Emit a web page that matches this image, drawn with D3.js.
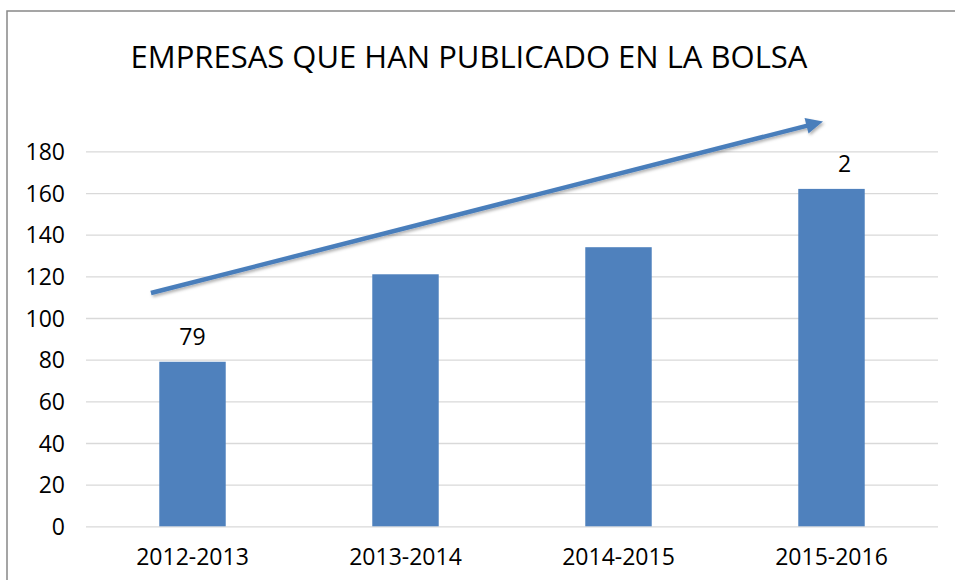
<!DOCTYPE html>
<html>
<head>
<meta charset="utf-8">
<script src="https://cdn.jsdelivr.net/npm/d3@7"></script>
<style>
  html, body { margin: 0; padding: 0; background: #fff; }
  svg { display: block; font-family: "Open Sans", "Noto Sans", sans-serif; }
</style>
</head>
<body>
<svg id="chart" width="955" height="580"></svg>
<script>
// data
const categories = ['2012-2013', '2013-2014', '2014-2015', '2015-2016'];
const values = [79, 121, 134, 162];
const labels = ['79', null, null, '2'];          // data labels as shown
const yTicks = [0, 20, 40, 60, 80, 100, 120, 140, 160, 180];
// trend arrow, in (category-step units, value units)
const trendFrom = [0.305, 112];
const trendTo = [3.46, 194.3];

const W = 955, H = 580;
const plot = { left: 86, right: 938, top: 151.4, bottom: 526.3 };
const BAR = '#4f81bd';
const FS = 23;

const svg = d3.select('#chart');

// chart frame
svg.append('rect')
  .attr('x', 7).attr('y', 11)
  .attr('width', W + 20).attr('height', H + 20)
  .attr('fill', '#fff')
  .attr('stroke', '#888').attr('stroke-width', 1.5);

svg.append('text')
  .attr('x', 469).attr('y', 68)
  .attr('text-anchor', 'middle')
  .attr('font-size', 31)
  .attr('fill', '#000')
  .text('EMPRESAS QUE HAN PUBLICADO EN LA BOLSA');

const x = d3.scaleBand()
  .domain(categories)
  .range([plot.left, plot.right])
  .paddingInner(0.688)
  .paddingOuter(0.344);

const y = d3.scaleLinear()
  .domain([0, 180])
  .range([plot.bottom, plot.top]);

// step units -> px, for the arrow
const xs = d3.scaleLinear().domain([0, categories.length]).range([plot.left, plot.right]);

// gridlines + y labels
const yAxis = d3.axisLeft(y).tickValues(yTicks).tickSize(-(plot.right - plot.left)).tickPadding(21);
const gy = svg.append('g')
  .attr('transform', `translate(${plot.left},0)`)
  .call(yAxis);
gy.select('.domain').remove();
gy.selectAll('.tick line').attr('stroke', '#d9d9d9').attr('stroke-width', 1.3);
gy.selectAll('.tick text')
  .attr('font-size', FS).attr('fill', '#000')
  .attr('font-family', '"Open Sans", "Noto Sans", sans-serif')
  .attr('dy', '0.36em');

// x labels
const xAxis = d3.axisBottom(x).tickSize(0).tickPadding(0);
const gx = svg.append('g')
  .attr('transform', `translate(0,${plot.bottom})`)
  .call(xAxis);
gx.select('.domain').remove();
gx.selectAll('.tick text')
  .attr('font-size', FS).attr('fill', '#000')
  .attr('font-family', '"Open Sans", "Noto Sans", sans-serif')
  .attr('dy', null)
  .attr('y', 39);

// bars
svg.append('g').selectAll('rect')
  .data(values)
  .join('rect')
  .attr('x', (d, i) => x(categories[i]))
  .attr('y', d => y(d))
  .attr('width', x.bandwidth())
  .attr('height', d => y(0) - y(d))
  .attr('fill', BAR);

// data labels
svg.append('g').selectAll('text')
  .data(values.map((v, i) => ({ v, i, t: labels[i] })).filter(d => d.t))
  .join('text')
  .attr('x', d => x(categories[d.i]) + x.bandwidth() / 2 + (d.t.length === 1 ? 13 : 0))
  .attr('y', d => y(d.v) - 17)
  .attr('text-anchor', 'middle')
  .attr('font-size', FS)
  .attr('fill', '#000')
  .text(d => d.t);

// trend arrow
const defs = svg.append('defs');
const f = defs.append('filter').attr('id', 'shadow')
  .attr('x', '-10%').attr('y', '-50%').attr('width', '120%').attr('height', '200%');
f.append('feDropShadow')
  .attr('dx', 1.5).attr('dy', 2).attr('stdDeviation', 1.5)
  .attr('flood-color', '#000').attr('flood-opacity', 0.3);

const x1 = xs(trendFrom[0]), y1 = y(trendFrom[1]);
const x2 = xs(trendTo[0]), y2 = y(trendTo[1]);
const ang = Math.atan2(y2 - y1, x2 - x1);
const headLen = 17, headHalf = 8;
const bx = x2 - headLen * Math.cos(ang), by = y2 - headLen * Math.sin(ang);
const nx = -Math.sin(ang), ny = Math.cos(ang);

const arrow = svg.append('g').attr('filter', 'url(#shadow)');
arrow.append('line')
  .attr('x1', x1).attr('y1', y1)
  .attr('x2', bx + 2 * Math.cos(ang)).attr('y2', by + 2 * Math.sin(ang))
  .attr('stroke', '#4a7ebb').attr('stroke-width', 4.5);
arrow.append('path')
  .attr('d', d3.line()([
    [x2, y2],
    [bx + nx * headHalf, by + ny * headHalf],
    [bx - nx * headHalf, by - ny * headHalf]
  ]) + 'Z')
  .attr('fill', '#4a7ebb');
</script>
</body>
</html>
